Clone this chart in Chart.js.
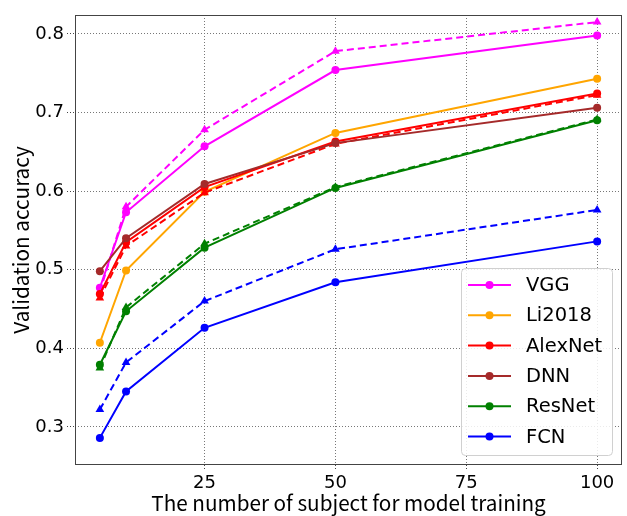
<!DOCTYPE html>
<html>
<head>
<meta charset="utf-8">
<script src="https://cdn.jsdelivr.net/npm/chart.js@4.4.1/dist/chart.umd.min.js"></script>
<style>
  html, body { margin: 0; background: #fff; }
  #wrap { width: 627px; height: 516px; }
</style>
</head>
<body>
<div id="wrap"><canvas id="chart"></canvas></div>
<script>
// --- Data ---
const subjects = [5, 10, 25, 50, 100];
const xTicks = [25, 50, 75, 100];
const yTicks = [0.3, 0.4, 0.5, 0.6, 0.7, 0.8];

const models = ['VGG', 'Li2018', 'AlexNet', 'DNN', 'ResNet', 'FCN'];
const modelColors = ['#ff00ff', '#ffa500', '#ff0000', '#a52a2a', '#008000', '#0000ff'];

// solid lines (circles)
const vgg     = [0.477, 0.573, 0.657, 0.754, 0.798];
const li2018  = [0.407, 0.499, 0.599, 0.674, 0.743];
const alexnet = [0.469, 0.535, 0.605, 0.663, 0.724];
const dnn     = [0.498, 0.540, 0.609, 0.661, 0.706];
const resnet  = [0.379, 0.447, 0.528, 0.604, 0.690];
const fcn     = [0.286, 0.345, 0.426, 0.484, 0.536];

// dashed lines (triangles)
const vggDash     = [0.472, 0.580, 0.678, 0.778, 0.815];
const alexnetDash = [0.464, 0.530, 0.598, 0.660, 0.722];
const resnetDash  = [0.375, 0.452, 0.533, 0.605, 0.691];
const fcnDash     = [0.322, 0.382, 0.460, 0.526, 0.576];

const TITLE_FONT = "'Noto Sans CJK JP', 'Noto Sans', sans-serif";
const TICK_FONT = "'DejaVu Sans', sans-serif";

function toPoints(values) {
    return subjects.map((x, i) => ({ x: x, y: values[i] }));
}

function solid(idx, values) {
    return {
        label: models[idx],
        data: toPoints(values),
        borderColor: modelColors[idx],
        backgroundColor: modelColors[idx],
        borderWidth: 2,
        pointStyle: 'circle',
        pointRadius: 4,
        pointBorderWidth: 0,
        tension: 0,
        inLegend: true
    };
}

function dashed(idx, values) {
    return {
        label: models[idx] + ' (dashed)',
        data: toPoints(values),
        borderColor: modelColors[idx],
        backgroundColor: modelColors[idx],
        borderWidth: 2,
        borderDash: [7, 4],
        pointStyle: 'triangle',
        pointRadius: 5,
        pointBorderWidth: 0,
        tension: 0,
        inLegend: false
    };
}

const datasets = [
    solid(0, vgg), dashed(0, vggDash),
    solid(1, li2018),
    solid(2, alexnet), dashed(2, alexnetDash),
    solid(3, dnn),
    solid(4, resnet), dashed(4, resnetDash),
    solid(5, fcn), dashed(5, fcnDash)
];
// first plotted ends up at the bottom, like matplotlib
datasets.forEach((d, i) => { d.order = datasets.length - i; });

// --- Frame round the plot area ---
const framePlugin = {
    id: 'frame',
    afterDatasetsDraw(chart) {
        const { ctx, chartArea: a } = chart;
        ctx.save();
        ctx.strokeStyle = '#444';
        ctx.lineWidth = 1;
        ctx.strokeRect(a.left + 0.5, a.top + 0.5, a.right - a.left - 1, a.bottom - a.top - 1);
        ctx.restore();
    }
};

// --- Legend in the lower right, matplotlib style ---
const legendPlugin = {
    id: 'mplLegend',
    afterDraw(chart) {
        const { ctx, chartArea: a } = chart;
        const items = chart.data.datasets.filter(d => d.inLegend);
        const w = 151, h = 187, rowH = 30.3;
        const x0 = a.right - 10 - w, y0 = a.bottom - 10 - h;
        ctx.save();
        ctx.beginPath();
        ctx.roundRect(x0 + 0.5, y0 + 0.5, w, h, 4);
        ctx.fillStyle = 'rgba(255,255,255,0.85)';
        ctx.fill();
        ctx.strokeStyle = '#d0d0d0';
        ctx.lineWidth = 1;
        ctx.stroke();
        ctx.font = '19.5px ' + TICK_FONT;
        ctx.textBaseline = 'middle';
        items.forEach((d, i) => {
            const cy = y0 + 17 + i * rowH;
            ctx.strokeStyle = d.borderColor;
            ctx.lineWidth = 2;
            ctx.beginPath();
            ctx.moveTo(x0 + 7, cy);
            ctx.lineTo(x0 + 50, cy);
            ctx.stroke();
            ctx.fillStyle = d.borderColor;
            ctx.beginPath();
            ctx.arc(x0 + 28.5, cy, 4, 0, Math.PI * 2);
            ctx.fill();
            ctx.fillStyle = '#000';
            ctx.fillText(d.label, x0 + 65, cy + 1);
        });
        ctx.restore();
    }
};

const ctx = document.getElementById('chart').getContext('2d');
new Chart(ctx, {
    type: 'line',
    data: { datasets: datasets },
    options: {
        responsive: true,
        maintainAspectRatio: false,
        animation: false,
        layout: { padding: { top: 15, right: 5, left: 0, bottom: 0 } },
        plugins: {
            legend: { display: false },
            tooltip: { enabled: false }
        },
        scales: {
            x: {
                type: 'linear',
                min: 0.25,
                max: 104.75,
                afterBuildTicks: (s) => { s.ticks = xTicks.map(v => ({ value: v })); },
                afterFit: (s) => { s.height = 51; },
                ticks: { color: '#000', font: { family: TICK_FONT, size: 18 }, padding: 2, maxRotation: 0 },
                grid: { color: '#777', lineWidth: 1, tickLength: 6, tickColor: '#444', tickBorderDash: [1, 2] },
                border: { display: false, dash: [1, 2] },
                title: {
                    display: true,
                    text: 'The number of subject for model training',
                    color: '#000',
                    font: { family: TITLE_FONT, size: 20.7 },
                    padding: { top: 0, bottom: 0 }
                }
            },
            y: {
                min: 0.2515,
                max: 0.824,
                afterBuildTicks: (s) => { s.ticks = yTicks.map(v => ({ value: v })); },
                afterFit: (s) => { s.width = 75; },
                ticks: {
                    color: '#000',
                    font: { family: TICK_FONT, size: 18 },
                    padding: 3,
                    callback: (v) => v.toFixed(1)
                },
                grid: { color: '#777', lineWidth: 1, tickLength: 8, tickColor: '#444', tickBorderDash: [1, 2] },
                border: { display: false, dash: [1, 2] },
                title: {
                    display: true,
                    text: 'Validation accuracy',
                    color: '#000',
                    font: { family: TITLE_FONT, size: 20.7 },
                    padding: { top: 9, bottom: 0 }
                }
            }
        }
    },
    plugins: [framePlugin, legendPlugin]
});
</script>
</body>
</html>
